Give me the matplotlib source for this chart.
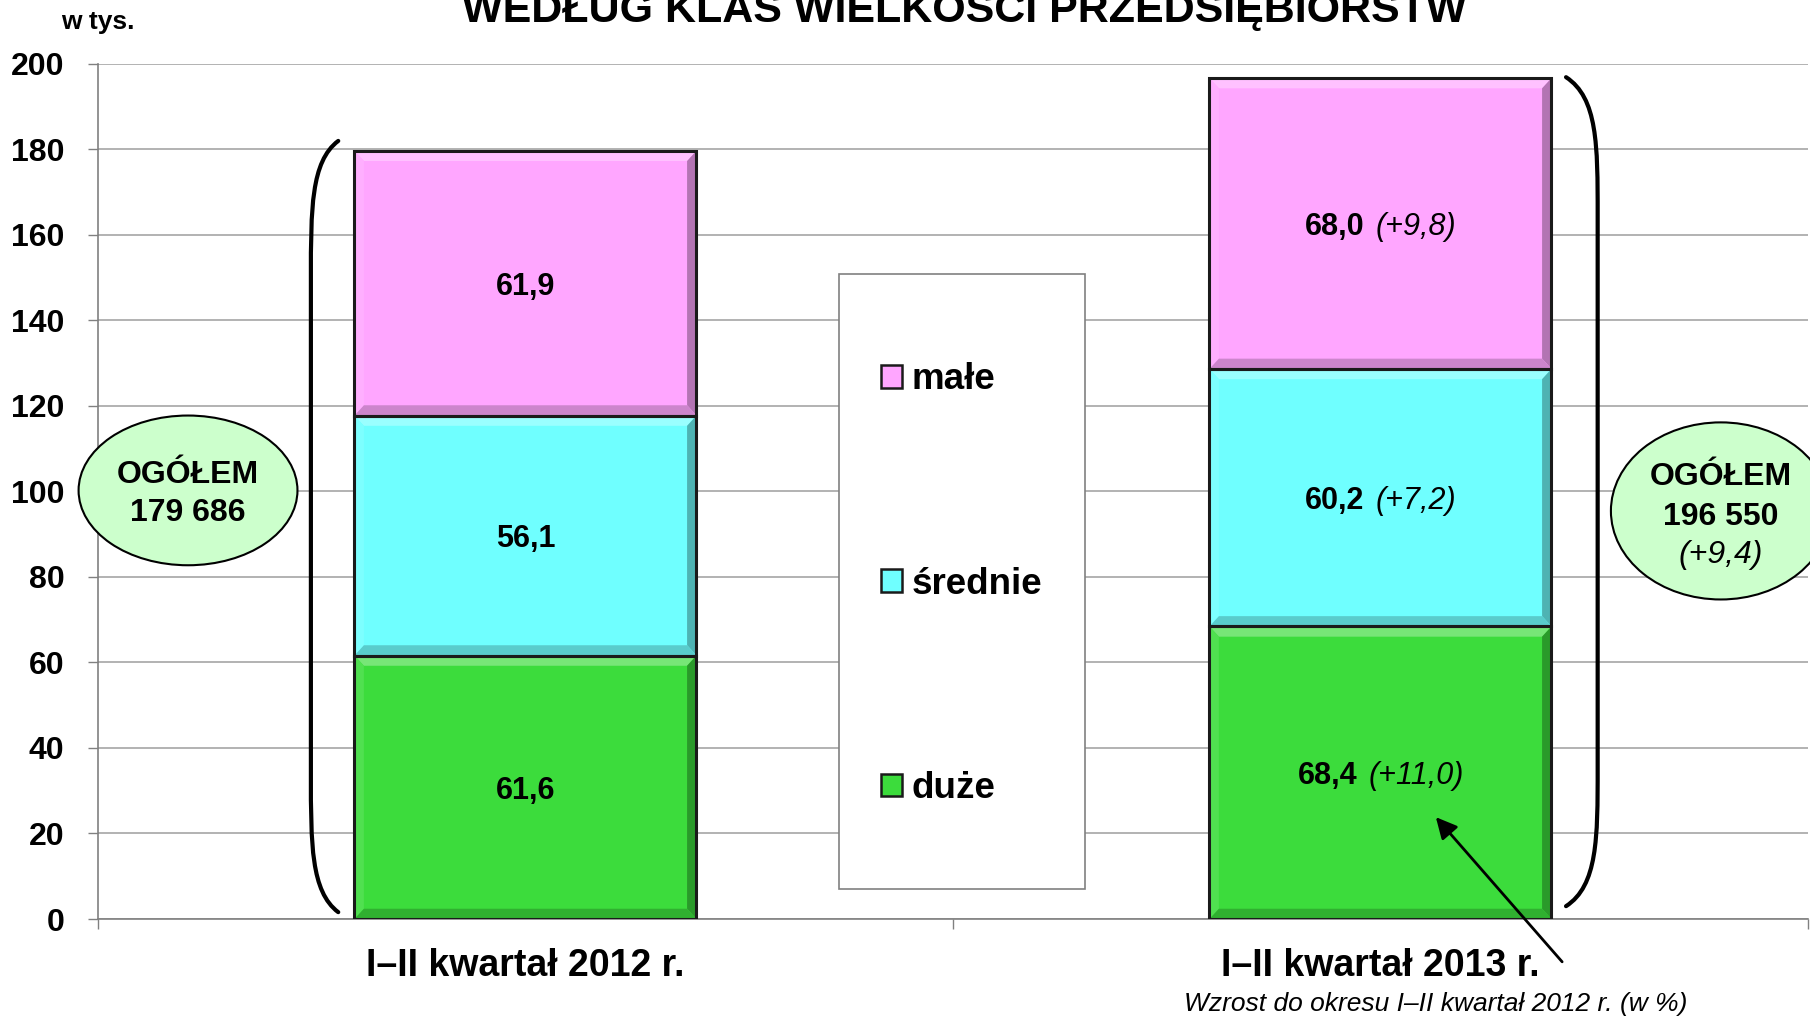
import matplotlib
matplotlib.use('Agg')
from matplotlib import pyplot as plt
from matplotlib.patches import Ellipse, Rectangle, Patch, PathPatch, Polygon
from matplotlib.path import Path
import matplotlib.colors as mcolors
import numpy as np

plt.rcParams['font.family'] = ['Liberation Sans', 'DejaVu Sans']

# data (w tys.)
categories = ['I\u2013II kwartał 2012 r.', 'I\u2013II kwartał 2013 r.']
series_names = ['duże', 'średnie', 'małe']
duze = [61.6, 68.4]
srednie = [56.1, 60.2]
male = [61.9, 68.0]
growth_duze = [None, '+11,0']
growth_srednie = [None, '+7,2']
growth_male = [None, '+9,8']
totals = [179686, 196550]
total_growth = [None, '+9,4']

colors = ['#3CDC3C', '#6FFFFF', '#FFA6FF']
yticks = np.arange(0, 201, 20)

title = 'WEDŁUG KLAS WIELKOŚCI PRZEDSIĘBIORSTW'
unit = 'w tys.'
note = 'Wzrost do okresu I\u2013II kwartał 2012 r. (w %)'

fig = plt.figure(figsize=(18.1, 10.16), dpi=100)
ax = fig.add_axes([0.05414, 0.09547, 0.94475, 0.84203])


def mix(c, other, t):
    a = np.array(mcolors.to_rgb(c))
    b = np.array(mcolors.to_rgb(other))
    return tuple(a * (1 - t) + b * t)


x = np.arange(len(categories))
width = 0.4
values = [duze, srednie, male]
growths = [growth_duze, growth_srednie, growth_male]
bottom = np.zeros(len(categories))
pairs = []
bdx, bdy = 0.011, 2.4  # bevel size in data units
for vals, gr, col, name in zip(values, growths, colors, series_names):
    vals = np.array(vals)
    bars = ax.bar(x, vals, width, bottom=bottom, color=col, linewidth=0, zorder=3, label=name)
    # simple bevel look
    for b in bars:
        x0, y0 = b.get_x(), b.get_y()
        x1, y1 = x0 + b.get_width(), y0 + b.get_height()
        bands = [
            ([(x0, y1), (x1, y1), (x1 - bdx, y1 - bdy), (x0 + bdx, y1 - bdy)], mix(col, 'white', 0.3)),
            ([(x0, y0), (x0, y1), (x0 + bdx, y1 - bdy), (x0 + bdx, y0 + bdy)], mix(col, 'white', 0.1)),
            ([(x1, y0), (x1, y1), (x1 - bdx, y1 - bdy), (x1 - bdx, y0 + bdy)], mix(col, 'black', 0.3)),
            ([(x0, y0), (x1, y0), (x1 - bdx, y0 + bdy), (x0 + bdx, y0 + bdy)], mix(col, 'black', 0.2)),
        ]
        for pts, c in bands:
            ax.add_patch(Polygon(pts, closed=True, facecolor=c, edgecolor='none', zorder=3.2))
    ax.bar(x, vals, width, bottom=bottom, fill=False, edgecolor='#1a1a1a', linewidth=2.2, zorder=3.4)
    for i in range(len(x)):
        yc = bottom[i] + vals[i] / 2
        lbl = f'{vals[i]:.1f}'.replace('.', ',')
        if gr[i] is None:
            ax.text(x[i], yc, lbl, ha='center', va='center_baseline', fontsize=22,
                    fontweight='bold', zorder=5)
        else:
            tb = ax.annotate(lbl, (x[i], yc), xytext=(0, 0), textcoords='offset pixels',
                             ha='left', va='center_baseline', fontsize=22, fontweight='bold', zorder=5)
            ti = ax.annotate(f'({gr[i]})', (x[i], yc), xytext=(0, 0), textcoords='offset pixels',
                             ha='left', va='center_baseline', fontsize=22, fontstyle='italic', zorder=5)
            pairs.append((tb, ti))
    bottom = bottom + vals

ax.set_xlim(-0.5, 1.5)
ax.set_ylim(0, 200)
ax.set_yticks(yticks)
ax.set_yticklabels([str(v) for v in yticks], fontsize=23, fontweight='bold')
ax.yaxis.grid(True, color='#A6A6A6', linewidth=1.2)
ax.set_axisbelow(True)
ax.tick_params(axis='y', length=7.2, width=1, color='#808080', pad=17)

ax.set_xticks([-0.5, 0.5, 1.5])
ax.set_xticklabels([])
ax.set_xticks(x, minor=True)
ax.set_xticklabels(categories, minor=True, fontsize=27, fontweight='bold')
ax.tick_params(axis='x', which='major', length=7.2, width=1, color='#808080')
ax.tick_params(axis='x', which='minor', length=0, pad=21)

for s in ['top', 'right']:
    ax.spines[s].set_visible(False)
for s in ['left', 'bottom']:
    ax.spines[s].set_color('#808080')
    ax.spines[s].set_linewidth(1.2)


def bracket(xv, xe, yt, yb, r):
    verts = [(xe, yt), (xv, yt - 0.15 * r), (xv, yt - 0.5 * r), (xv, yt - r),
             (xv, yb + r),
             (xv, yb + 0.5 * r), (xv, yb + 0.15 * r), (xe, yb)]
    codes = [Path.MOVETO, Path.CURVE4, Path.CURVE4, Path.CURVE4,
             Path.LINETO,
             Path.CURVE4, Path.CURVE4, Path.CURVE4]
    ax.add_patch(PathPatch(Path(verts, codes), fill=False, lw=3, color='black',
                           zorder=4, clip_on=False, capstyle='round'))


tot_bars = bottom
bracket(-0.251, -0.219, tot_bars[0] + 2.3, 1.6, 32)
bracket(1.254, 1.217, tot_bars[1] + 0.2, 3.0, 32)

# ellipses with totals
fmt = lambda t: f'{t:,}'.replace(',', ' ')
ax.add_patch(Ellipse((-0.3947, 100.2), 0.256, 35, facecolor='#CCFFCC', edgecolor='black',
                     lw=1.5, zorder=4, clip_on=False))
ax.text(-0.3947, 103.7, 'OGÓŁEM', ha='center', va='center', fontsize=23,
        fontweight='bold', zorder=5)
ax.text(-0.3947, 94.8, fmt(totals[0]), ha='center', va='center', fontsize=23,
        fontweight='bold', zorder=5)
ax.add_patch(Ellipse((1.398, 95.4), 0.257, 41.4, facecolor='#CCFFCC', edgecolor='black',
                     lw=1.5, zorder=4, clip_on=False))
ax.text(1.398, 103.4, 'OGÓŁEM', ha='center', va='center', fontsize=23,
        fontweight='bold', zorder=5, clip_on=False)
ax.text(1.398, 94.0, fmt(totals[1]), ha='center', va='center', fontsize=23,
        fontweight='bold', zorder=5, clip_on=False)
ax.text(1.398, 85.0, f'({total_growth[1]})', ha='center', va='center', fontsize=23,
        fontstyle='italic', zorder=5, clip_on=False)

# legend box
ax.add_patch(Rectangle((0.3667, 7.0), 0.2873, 143.9, facecolor='white', edgecolor='#808080',
                       lw=1.2, zorder=4))
handles = [Patch(facecolor=c, edgecolor='#1a1a1a', lw=1.8) for c in colors[::-1]]
leg = ax.legend(handles, series_names[::-1], loc='center left', bbox_to_anchor=(0.4158, 78.3),
                bbox_transform=ax.transData, frameon=False, borderpad=0, borderaxespad=0,
                handlelength=0.57, handleheight=0.57, handletextpad=0.25, labelspacing=4.6,
                prop={'size': 26.5, 'weight': 'bold'})
leg.set_zorder(6)

# arrow to growth note
ax.annotate('', xy=(1.0626, 24.3), xytext=(1.2146, -10.5),
            arrowprops=dict(arrowstyle='-|>', lw=2, color='black', mutation_scale=32),
            annotation_clip=False, zorder=6)

fig.text(0.5326, 1 - 22 / 1016, title, ha='center', va='baseline', fontsize=31, fontweight='bold')
fig.text(61 / 1810, 1 - 29 / 1016, unit, ha='left', va='baseline', fontsize=19, fontweight='bold')
fig.text(1436 / 1810, 1 - 1011 / 1016, note, ha='center', va='baseline', fontsize=19,
         fontstyle='italic')

# centre the two-style labels on the bars
fig.canvas.draw()
r = fig.canvas.get_renderer()
gap = 11
for tb, ti in pairs:
    wb = tb.get_window_extent(r).width
    wi = ti.get_window_extent(r).width
    tot = wb + gap + wi
    tb.xyann = (-tot / 2, 0)
    ti.xyann = (-tot / 2 + wb + gap, 0)

fig.savefig('out.png', dpi=100)
